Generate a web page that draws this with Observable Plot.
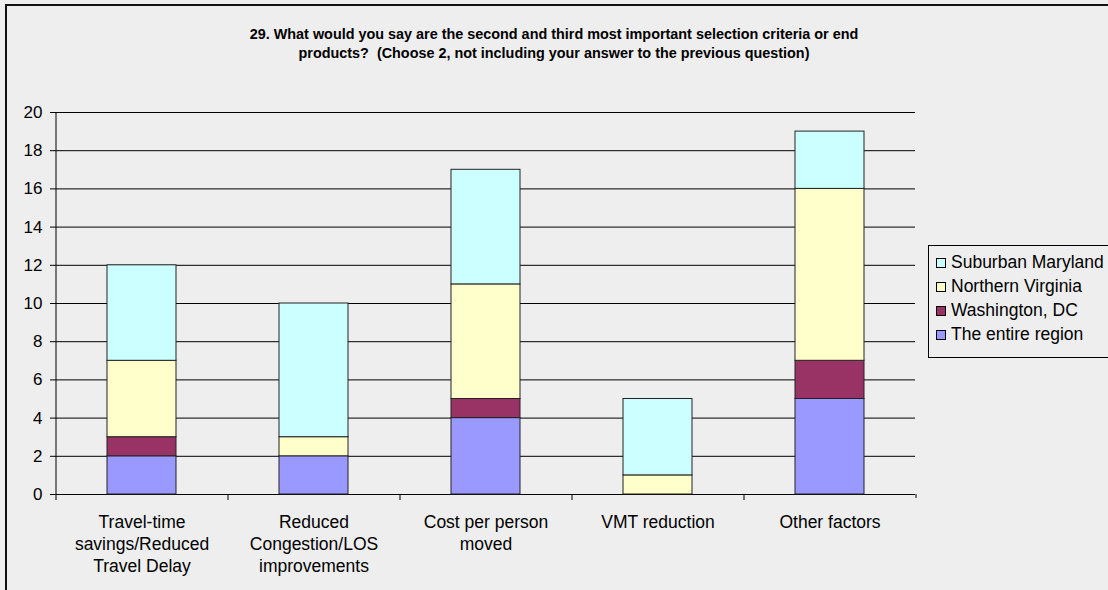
<!DOCTYPE html>
<html>
<head>
<meta charset="utf-8">
<script src="https://cdn.jsdelivr.net/npm/d3@7"></script>
<script src="https://cdn.jsdelivr.net/npm/@observablehq/plot@0.6"></script>
<style>
  html, body { margin: 0; padding: 0; background: #fff; }
  #wrap { position: relative; width: 1108px; height: 590px; background: #eeeeee; overflow: hidden; font-family: "Liberation Sans", Arial, sans-serif; }
  #border { position: absolute; left: 5px; top: 4px; width: 1120px; height: 600px; border: 2px solid #111; border-right: none; border-bottom: none; box-sizing: border-box; }
  #title { position: absolute; left: 0; width: 1108px; top: 25px; text-align: center; font-weight: bold; font-size: 14.4px; line-height: 19px; color: #000; }
  #legend { position: absolute; left: 928px; top: 245px; width: 200px; height: 113px; border: 1px solid #000; box-sizing: border-box; font-size: 17.5px; color: #000; }
  .item { position: absolute; left: 7px; height: 22px; line-height: 22px; white-space: nowrap; }
  .sw { display: inline-block; width: 10px; height: 10px; border: 1px solid #000; box-sizing: border-box; margin-right: 5px; vertical-align: 0px; }
  #chart { position: absolute; left: 0; top: 0; }
</style>
</head>
<body>
<div id="wrap">
  <div id="chart"></div>
  <div id="border"></div>
  <div id="title">29. What would you say are the second and third most important selection criteria or end<br>products?&nbsp; (Choose 2, not including your answer to the previous question)</div>
  <div id="legend"></div>
</div>
<script>
const categories = [
  "Travel-time\nsavings/Reduced\nTravel Delay",
  "Reduced\nCongestion/LOS\nimprovements",
  "Cost per person\nmoved",
  "VMT reduction",
  "Other factors"
];
const seriesNames = ["The entire region", "Washington, DC", "Northern Virginia", "Suburban Maryland"];
const entireRegion = [2, 2, 4, 0, 5];
const washingtonDC = [1, 0, 1, 0, 2];
const northernVirginia = [4, 1, 6, 1, 9];
const suburbanMaryland = [5, 7, 6, 4, 3];
const colors = ["#9999ff", "#993366", "#ffffcc", "#ccffff"];
const yTicks = [0, 2, 4, 6, 8, 10, 12, 14, 16, 18, 20];

const seriesValues = [entireRegion, washingtonDC, northernVirginia, suburbanMaryland];
const data = [];
seriesNames.forEach((s, i) => {
  categories.forEach((c, j) => data.push({category: c, series: s, value: seriesValues[i][j]}));
});

const W = 1108, H = 590, mL = 55, mR = 193, mT = 112, mB = 96;
const step = (W - mL - mR) / categories.length;

const chart = Plot.plot({
  width: W,
  height: H,
  marginLeft: mL,
  marginRight: mR,
  marginTop: mT,
  marginBottom: mB,
  style: {background: "transparent", fontFamily: "'Liberation Sans', Arial, sans-serif", fontSize: "17px", color: "#000"},
  x: {domain: categories, paddingInner: 0.6, paddingOuter: 0.3, axis: null},
  y: {domain: [0, 20], axis: null},
  color: {domain: seriesNames, range: colors},
  marks: [
    Plot.ruleY(yTicks, {y: d => d, stroke: "#000", strokeWidth: 1, strokeOpacity: 1}),
    Plot.barY(data, Plot.stackY({x: "category", y: "value", fill: "series", order: seriesNames, stroke: "#222", strokeWidth: 1})),
    Plot.ruleX([0], {x: () => categories[0], dx: -step / 2, y1: 0, y2: 20, stroke: "#000"}),
    Plot.axisY({ticks: yTicks, tickSize: 5, tickPadding: 8, fontSize: 17, stroke: "#000", strokeOpacity: 1, label: null}),
    Plot.axisX({ticks: categories, tickSize: 6, dx: -step / 2, tickFormat: () => "", stroke: "#000", strokeOpacity: 1, label: null}),
    Plot.axisX({ticks: [categories[categories.length - 1]], tickSize: 4, dx: step / 2, tickFormat: () => "", stroke: "#000", strokeOpacity: 1, label: null}),
    Plot.text(categories, {x: d => d, frameAnchor: "bottom", lineAnchor: "top", dy: 18, text: d => d, fontSize: 17.5, lineHeight: 1.257, fill: "#000"})
  ]
});
document.getElementById("chart").appendChild(chart);

const legend = document.getElementById("legend");
const order = [3, 2, 1, 0];
order.forEach((idx, k) => {
  const div = document.createElement("div");
  div.className = "item";
  div.style.top = (5 + k * 24) + "px";
  div.innerHTML = `<span class="sw" style="background:${colors[idx]}"></span>${seriesNames[idx]}`;
  legend.appendChild(div);
});
</script>
</body>
</html>
